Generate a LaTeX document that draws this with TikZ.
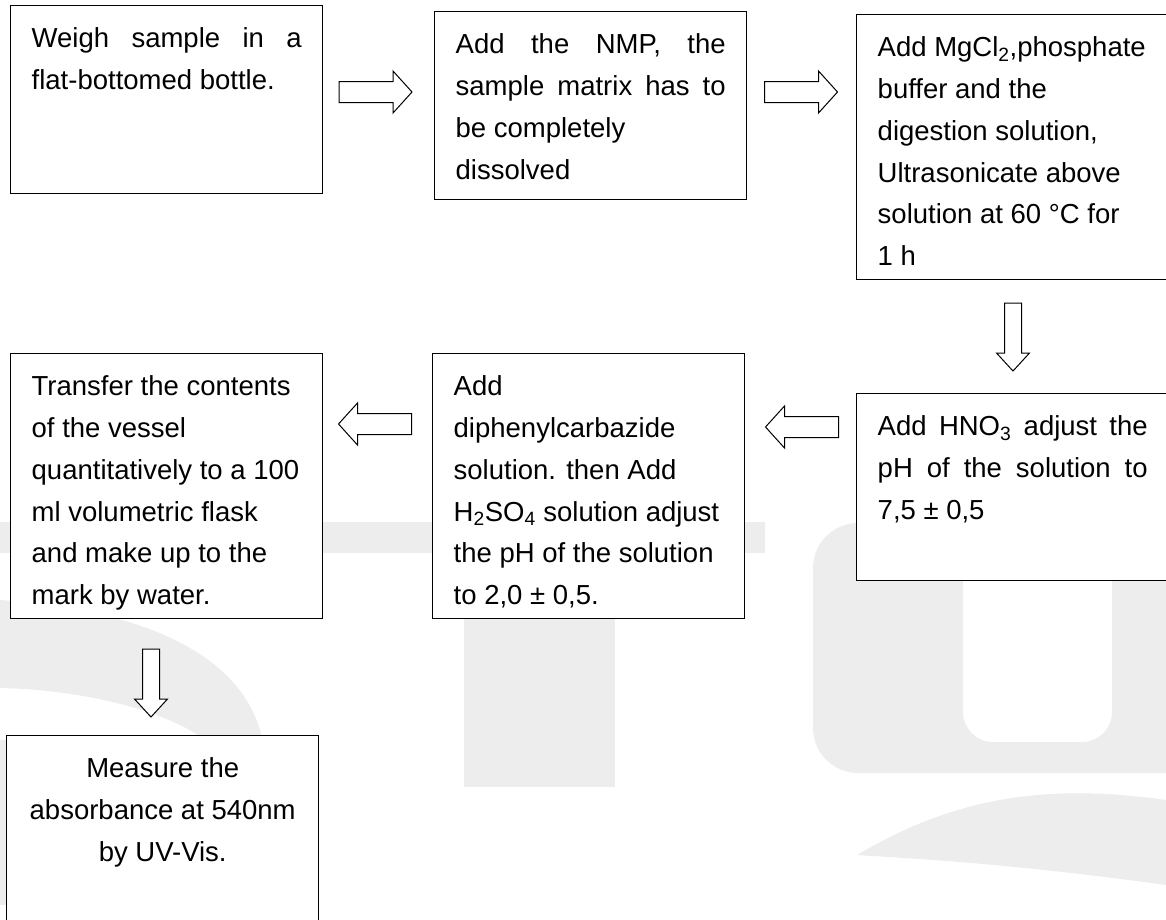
\documentclass[tikz,border=0pt]{standalone}
\usepackage{fontspec}
\setmainfont{Liberation Sans}
\usetikzlibrary{positioning}

% text of one step: height, alignment, lines
\newcommand{\steptext}[3]{\begin{minipage}[t][#1pt][t]{270pt}%
\fontsize{27.5}{41.8}\selectfont\parskip=0pt\spaceskip=0.278em plus 5em%
\hyphenpenalty=10000\exhyphenpenalty=10000#2\rule{0pt}{42pt}#3\end{minipage}}

\tikzset{
  stepbox/.style={draw, fill=white, line width=1.4pt, inner xsep=21pt,
    inner ysep=0pt, anchor=north west},
  flowline/.style={draw, fill=white, line width=1pt, line join=miter},
  wmark/.style={fill=black!7},
  rarrow/.pic={\path[flowline] (-36.5,-10.5) -- (17.5,-10.5) -- (17.5,-21)
    -- (36.5,0) -- (17.5,21) -- (17.5,10.5) -- (-36.5,10.5) -- cycle;},
  darrow/.pic={\path[flowline] (-8.5,-34) -- (8.5,-34) -- (8.5,16)
    -- (16.5,16) -- (0,34) -- (-16.5,16) -- (-8.5,16) -- cycle;}
}

\begin{document}
\begin{tikzpicture}[x=1pt,y=-1pt]
\useasboundingbox (0,0) rectangle (1166,919);
\clip (0,0) rectangle (1166,919);

% watermark
\fill[wmark] (0,600) .. controls (150,610) and (260,660) .. (265,760)
  -- (265,919) -- (200,919) -- (225,760) .. controls (200,720) and (100,690) .. (0,688) -- cycle;
\fill[wmark] (0,740) rectangle (6,905);
\fill[wmark] (0,522) rectangle (765,553);
\fill[wmark] (464,553) rectangle (615,787);
\fill[wmark, even odd rule, rounded corners=45pt] (813,523) rectangle (1230,773)
  [rounded corners=30pt] (963,450) rectangle (1112,742);
\fill[wmark] (857,855) .. controls (950,800) and (1040,782) .. (1166,800)
  -- (1166,885) .. controls (1000,862) and (900,858) .. (857,855) -- cycle;

% steps
\node[stepbox] (weigh) at (10,5) {\steptext{188}{}{Weigh sample in a\linebreak
  flat-bottomed bottle.}};
\node[stepbox] (nmp) at (434,11) {\steptext{188}{}{Add the NMP, the\linebreak
  sample matrix has to\linebreak be completely\newline dissolved}};
\node[stepbox] (mgcl) at (856,14) {\steptext{265}{\raggedright}{Add MgCl\textsubscript{2},phosphate\\
  buffer and the\\ digestion solution,\\ Ultrasonicate above\\
  solution at 60 °C for\\ 1 h}};
\node[stepbox] (hno) at (856,393) {\steptext{187}{}{Add HNO\textsubscript{3} adjust the\linebreak
  pH of the solution to\linebreak 7,5 ± 0,5}};
\node[stepbox] (dpc) at (432,353) {\steptext{265}{\raggedright}{Add\\ diphenylcarbazide\\
  solution. then Add\\ H\textsubscript{2}SO\textsubscript{4} solution adjust\\
  the pH of the solution\\ to 2,0 ± 0,5.}};
\node[stepbox] (transfer) at (10,353) {\steptext{265}{\raggedright}{Transfer the contents\\
  of the vessel\\ quantitatively to a 100\\ ml volumetric flask\\
  and make up to the\\ mark by water.}};
\node[stepbox] (measure) at (6,735) {\steptext{265}{\centering}{Measure the\\
  absorbance at 540nm\\ by UV-Vis.}};

% block arrows
\pic at (375.5,92) {rarrow};
\pic at (801,92) {rarrow};
\pic at (1013,337) {darrow};
\pic[rotate=180] at (802,427) {rarrow};
\pic[rotate=180] at (375,424) {rarrow};
\pic at (151,683) {darrow};
\end{tikzpicture}
\end{document}
